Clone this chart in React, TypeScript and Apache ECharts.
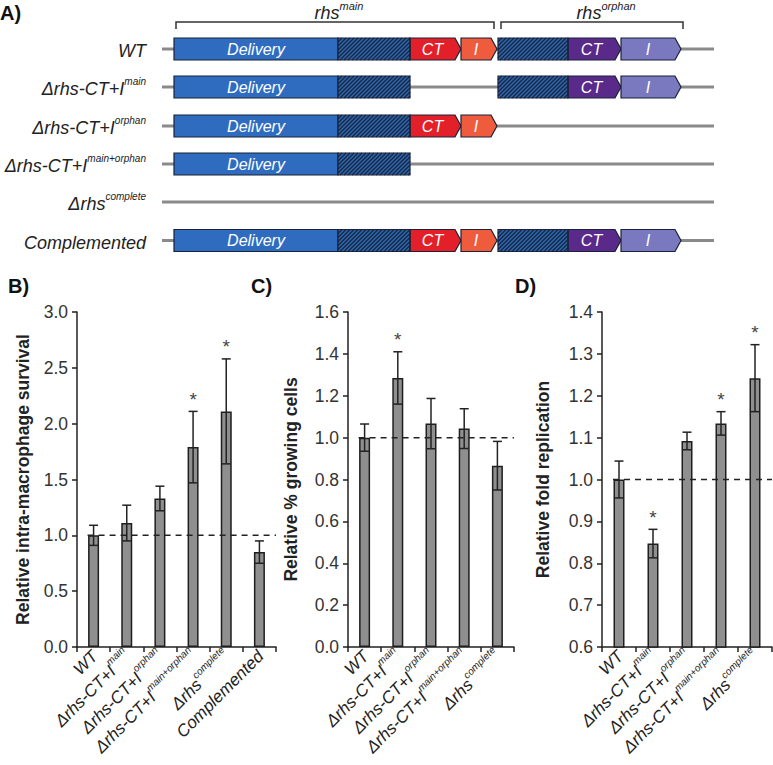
import React, { useEffect, useRef } from 'react';
import * as echarts from 'echarts';

const FONT = "'Liberation Sans', Arial, Helvetica, sans-serif";

// ---------- Data ----------
const strainsB = ['WT', 'Δrhs-CT+I^main', 'Δrhs-CT+I^orphan', 'Δrhs-CT+I^main+orphan', 'Δrhs^complete', 'Complemented'];
const survivalMean = [1.0, 1.11, 1.33, 1.79, 2.11, 0.85];
const survivalErr = [0.09, 0.16, 0.11, 0.32, 0.47, 0.1];
const survivalSig = [0, 0, 0, 1, 1, 0];

const strainsC = ['WT', 'Δrhs-CT+I^main', 'Δrhs-CT+I^orphan', 'Δrhs-CT+I^main+orphan', 'Δrhs^complete'];
const growingMean = [1.0, 1.285, 1.067, 1.043, 0.866];
const growingErr = [0.065, 0.125, 0.12, 0.095, 0.116];
const growingSig = [0, 1, 0, 0, 0];

const strainsD = ['WT', 'Δrhs-CT+I^main', 'Δrhs-CT+I^orphan', 'Δrhs-CT+I^main+orphan', 'Δrhs^complete'];
const replicationMean = [1.0, 0.847, 1.092, 1.134, 1.242];
const replicationErr = [0.044, 0.034, 0.021, 0.028, 0.08];
const replicationSig = [0, 1, 0, 1, 1];

const geneRowLabels = ['WT', 'Δrhs-CT+I^main', 'Δrhs-CT+I^orphan', 'Δrhs-CT+I^main+orphan', 'Δrhs^complete', 'Complemented'];
const geneRowParts = [
  ['delivery', 'hatchMain', 'ctMain', 'iMain', 'hatchOrphan', 'ctOrphan', 'iOrphan'],
  ['delivery', 'hatchMain', 'hatchOrphan', 'ctOrphan', 'iOrphan'],
  ['delivery', 'hatchMain', 'ctMain', 'iMain'],
  ['delivery', 'hatchMain'],
  [],
  ['delivery', 'hatchMain', 'ctMain', 'iMain', 'hatchOrphan', 'ctOrphan', 'iOrphan'],
];

// ---------- Helpers ----------
function supLabel(s: string) {
  const [base, sup] = s.split('^');
  return sup ? `{a|${base}}{b|${sup}}` : `{a|${base}}`;
}

const segments: Record<string, any> = {
  delivery: { x0: 174, x1: 338, kind: 'rect', fill: '#2f6cbf', text: 'Delivery' },
  hatchMain: { x0: 338, x1: 410, kind: 'hatch' },
  ctMain: { x0: 410, x1: 461, kind: 'arrow', fill: '#e3202a', text: 'CT' },
  iMain: { x0: 461, x1: 497, kind: 'arrow', fill: '#ef5b3d', text: 'I' },
  hatchOrphan: { x0: 498, x1: 568, kind: 'hatch' },
  ctOrphan: { x0: 568, x1: 621, kind: 'arrow', fill: '#5a2a8a', text: 'CT' },
  iOrphan: { x0: 621, x1: 681, kind: 'arrow', fill: '#7a78bf', text: 'I' },
};

const BORDER = '#1a2238';

function buildPanelA() {
  const els: any[] = [];
  const rowY = [49, 87, 126, 164, 202, 240.5];
  const H = 22;
  const richRow = {
    a: { fontSize: 18, fontStyle: 'italic', fill: '#222', color: '#222', fontFamily: FONT, lineHeight: 22, verticalAlign: 'bottom' },
    b: { fontSize: 10, fontStyle: 'italic', fill: '#222', color: '#222', fontFamily: FONT, lineHeight: 12, verticalAlign: 'top' },
  };
  geneRowLabels.forEach((lab, i) => {
    const cy = rowY[i];
    const y0 = cy - H / 2;
    const y1 = cy + H / 2;
    els.push({
      type: 'text', x: 146, y: cy, z: 10,
      style: { text: supLabel(lab), rich: richRow, align: 'right', textAlign: 'right', verticalAlign: 'middle', textVerticalAlign: 'middle', fontFamily: FONT },
    });
    els.push({ type: 'line', z: 1, shape: { x1: 162, y1: cy, x2: 714, y2: cy }, style: { stroke: '#8a8a8a', lineWidth: 3 } });
    geneRowParts[i].forEach((p) => {
      const s = segments[p];
      if (s.kind === 'rect') {
        els.push({ type: 'rect', z: 3, shape: { x: s.x0, y: y0, width: s.x1 - s.x0, height: H }, style: { fill: s.fill, stroke: BORDER, lineWidth: 1.2 } });
        els.push({ type: 'text', z: 5, x: (s.x0 + s.x1) / 2, y: cy, style: { text: s.text, fill: '#fff', fontSize: 16, fontStyle: 'italic', fontFamily: FONT, align: 'center', textAlign: 'center', verticalAlign: 'middle', textVerticalAlign: 'middle' } });
      } else if (s.kind === 'hatch') {
        els.push({ type: 'rect', z: 3, shape: { x: s.x0, y: y0, width: s.x1 - s.x0, height: H }, style: { fill: '#3266ab', stroke: 'none' } });
        const step = 4;
        for (let st = s.x0 - H; st < s.x1; st += step) {
          const tmin = Math.max(0, s.x0 - st);
          const tmax = Math.min(H, s.x1 - st);
          if (tmin < tmax) {
            els.push({ type: 'line', z: 4, shape: { x1: st + tmin, y1: y1 - tmin, x2: st + tmax, y2: y1 - tmax }, style: { stroke: '#142849', lineWidth: 1.4 } });
          }
        }
        els.push({ type: 'rect', z: 5, shape: { x: s.x0, y: y0, width: s.x1 - s.x0, height: H }, style: { fill: 'none', stroke: BORDER, lineWidth: 1.2 } });
      } else {
        const flat = s.x1 - 6;
        els.push({ type: 'polygon', z: 3, shape: { points: [[s.x0, y0], [flat, y0], [s.x1, cy], [flat, y1], [s.x0, y1]] }, style: { fill: s.fill, stroke: BORDER, lineWidth: 1.2 } });
        els.push({ type: 'text', z: 5, x: (s.x0 + flat) / 2, y: cy, style: { text: s.text, fill: '#fff', fontSize: 16, fontStyle: 'italic', fontFamily: FONT, align: 'center', textAlign: 'center', verticalAlign: 'middle', textVerticalAlign: 'middle' } });
      }
    });
  });
  // brackets
  els.push({ type: 'polyline', z: 2, shape: { points: [[176, 29], [176, 22], [494, 22], [494, 29]] }, style: { stroke: '#333', lineWidth: 1.5, fill: 'none' } });
  els.push({ type: 'polyline', z: 2, shape: { points: [[501, 29], [501, 22], [683, 22], [683, 29]] }, style: { stroke: '#333', lineWidth: 1.5, fill: 'none' } });
  const richBr = {
    a: { fontSize: 18, fontStyle: 'italic', fill: '#222', color: '#222', fontFamily: FONT, lineHeight: 22, verticalAlign: 'bottom' },
    b: { fontSize: 11, fontStyle: 'italic', fill: '#222', color: '#222', fontFamily: FONT, lineHeight: 13, verticalAlign: 'top' },
  };
  els.push({ type: 'text', x: 339, y: 11, style: { text: '{a|rhs}{b|main}', rich: richBr, align: 'center', textAlign: 'center', verticalAlign: 'middle', textVerticalAlign: 'middle' } });
  els.push({ type: 'text', x: 606, y: 11, style: { text: '{a|rhs}{b|orphan}', rich: richBr, align: 'center', textAlign: 'center', verticalAlign: 'middle', textVerticalAlign: 'middle' } });

  // panel letters
  const letters: [string, number, number][] = [['A)', 0, 13], ['B)', 8, 286], ['C)', 251, 286], ['D)', 515, 286]];
  letters.forEach(([t, x, y]) => {
    els.push({ type: 'text', x, y, style: { text: t, fill: '#111', fontSize: 20, fontWeight: 'bold', fontFamily: FONT, align: 'left', textAlign: 'left', verticalAlign: 'middle', textVerticalAlign: 'middle' } });
  });
  return els;
}

const axisRich = {
  a: { fontSize: 17, fontStyle: 'italic', color: '#222', fontFamily: FONT, lineHeight: 21, verticalAlign: 'bottom' },
  b: { fontSize: 10, fontStyle: 'italic', color: '#222', fontFamily: FONT, lineHeight: 12, verticalAlign: 'top' },
};

function makePanel(idx: number, cats: string[], mean: number[], err: number[], sig: number[], yName: string, yMin: number, yMax: number, yInt: number, nameGap: number) {
  const xAxis = {
    type: 'category', gridIndex: idx, data: cats,
    axisLine: { lineStyle: { color: '#222', width: 1.5 } },
    axisTick: { show: true, length: 5, inside: false, alignWithLabel: false, lineStyle: { color: '#222', width: 1.5 } },
    axisLabel: { interval: 0, rotate: 45, margin: 5, formatter: (v: string) => supLabel(v), rich: axisRich, fontFamily: FONT },
    splitLine: { show: false },
  };
  const yAxis = {
    type: 'value', gridIndex: idx, min: yMin, max: yMax, interval: yInt,
    name: yName, nameLocation: 'middle', nameRotate: 90, nameGap,
    nameTextStyle: { fontSize: 17.5, fontWeight: 'bold', color: '#222', fontFamily: FONT },
    axisLine: { show: true, lineStyle: { color: '#222', width: 1.5 } },
    axisTick: { show: true, length: 5, inside: false, lineStyle: { color: '#222', width: 1.5 } },
    axisLabel: { fontSize: 17.5, color: '#333', fontFamily: FONT, margin: 9, formatter: (v: number) => v.toFixed(1) },
    splitLine: { show: false },
  };
  const series = [
    {
      type: 'bar', xAxisIndex: idx, yAxisIndex: idx, data: mean, barWidth: 11, z: 2,
      itemStyle: { color: '#8f8f8f', borderColor: '#1e1e1e', borderWidth: 1.5 },
    },
    {
      type: 'custom', xAxisIndex: idx, yAxisIndex: idx, z: 3,
      data: mean.map((m, i) => [i, m, err[i], sig[i]]),
      encode: { x: 0, y: 1 },
      renderItem: (params: any, api: any) => {
        const x = api.value(0);
        const v = api.value(1);
        const e = api.value(2);
        const s = api.value(3);
        const top = api.coord([x, v + e]);
        const bot = api.coord([x, v - e]);
        const cw = 4.5;
        const st = { stroke: '#222', lineWidth: 1.5 };
        const children: any[] = [
          { type: 'line', shape: { x1: top[0], y1: top[1], x2: bot[0], y2: bot[1] }, style: st },
          { type: 'line', shape: { x1: top[0] - cw, y1: top[1], x2: top[0] + cw, y2: top[1] }, style: st },
          { type: 'line', shape: { x1: bot[0] - cw, y1: bot[1], x2: bot[0] + cw, y2: bot[1] }, style: st },
        ];
        if (s) {
          children.push({ type: 'text', x: top[0], y: top[1] - 12, style: { text: '*', fill: '#444', fontSize: 19, fontFamily: FONT, align: 'center', textAlign: 'center', verticalAlign: 'middle', textVerticalAlign: 'middle' } });
        }
        return { type: 'group', children };
      },
    },
    {
      type: 'custom', xAxisIndex: idx, yAxisIndex: idx, z: 4,
      data: [[0, 1]],
      encode: { x: 0, y: 1 },
      renderItem: (params: any, api: any) => {
        const cs = params.coordSys;
        const p = api.coord([0, 1]);
        return {
          type: 'line',
          shape: { x1: p[0] - 6, y1: p[1], x2: cs.x + cs.width, y2: p[1] },
          style: { stroke: '#222', lineWidth: 1.5, lineDash: [6, 5] },
        };
      },
    },
  ];
  return { xAxis, yAxis, series };
}

export default function App() {
  const ref = useRef<HTMLDivElement>(null);
  useEffect(() => {
    if (!ref.current) return;
    const chart = echarts.init(ref.current, undefined, { renderer: 'svg' });
    const pB = makePanel(0, strainsB, survivalMean, survivalErr, survivalSig, 'Relative intra-macrophage survival', 0, 3, 0.5, 45);
    const pC = makePanel(1, strainsC, growingMean, growingErr, growingSig, 'Relative % growing cells', 0, 1.6, 0.2, 48);
    const pD = makePanel(2, strainsD, replicationMean, replicationErr, replicationSig, 'Relative fold replication', 0.6, 1.4, 0.1, 50);
    chart.setOption({
      animation: false,
      textStyle: { fontFamily: FONT },
      grid: [
        { left: 77, top: 312, width: 199, height: 335, outerBoundsMode: 'none', containLabel: false },
        { left: 348, top: 312, width: 166, height: 335, outerBoundsMode: 'none', containLabel: false },
        { left: 602, top: 312, width: 170, height: 335, outerBoundsMode: 'none', containLabel: false },
      ],
      xAxis: [pB.xAxis, pC.xAxis, pD.xAxis],
      yAxis: [pB.yAxis, pC.yAxis, pD.yAxis],
      series: [...pB.series, ...pC.series, ...pD.series],
      graphic: { elements: buildPanelA() },
    } as any);
    return () => chart.dispose();
  }, []);
  return (
    <div
      ref={ref}
      style={{ position: 'fixed', left: 0, top: 0, width: 773, height: 765, background: '#fff' }}
    />
  );
}
